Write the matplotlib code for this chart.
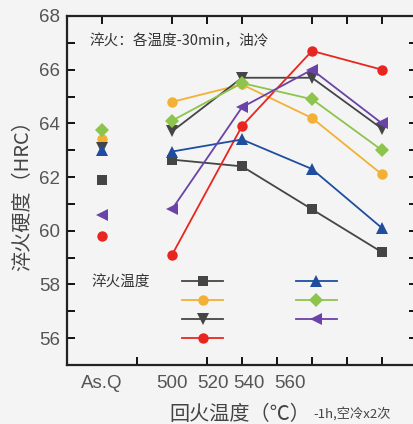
import matplotlib as mpl
import matplotlib.pyplot as plt
from matplotlib.lines import Line2D

mpl.use("Agg")

CJK = ["Noto Sans CJK SC", "DejaVu Sans"]
plt.rcParams["font.family"] = ["Liberation Sans", "Noto Sans CJK SC"]

# x positions: As.Q at 0, tempering points on a 0..8 grid
asq_pos = 0
temper_pos = [2, 4, 6, 8]

tick_labels = ["As.Q", "500", "520", "540", "560"]
tick_label_pos = [0, 2, 3.17, 4.2, 5.37]

# hardness per quench temperature: As.Q value, then tempered values
asq_hrc = [61.9, 63.4, 63.1, 59.8, 63.0, 63.75, 60.6]
temper_hrc = [
    [62.65, 62.4, 60.8, 59.2],
    [64.8, 65.45, 64.2, 62.1],
    [63.7, 65.7, 65.7, 63.8],
    [59.1, 63.9, 66.7, 66.0],
    [62.95, 63.4, 62.3, 60.1],
    [64.1, 65.5, 64.9, 63.0],
    [60.8, 64.6, 66.0, 64.0],
]
series_colors = ["#454545", "#f2b134", "#454545", "#e8261f",
                 "#1f4e9e", "#8cc44c", "#6a42a8"]
series_markers = ["s", "o", "v", "o", "^", "D", "<"]
marker_sizes = [7.5, 7.5, 8.5, 7.5, 8.5, 7, 8.5]

bg = "#f4f4f4"
fig = plt.figure(figsize=(4.14, 4.24), dpi=100, facecolor=bg)
ax = fig.add_axes([67 / 414, 59 / 424, 350 / 414, 349 / 424], facecolor=bg)

handles = []
for a, vals, c, m, ms in zip(asq_hrc, temper_hrc, series_colors,
                             series_markers, marker_sizes):
    ax.plot([asq_pos], [a], linestyle="none", marker=m, color=c,
            markersize=ms, markeredgewidth=0)
    ax.plot(temper_pos, vals, color=c, linewidth=1.3, marker=m,
            markersize=ms, markeredgewidth=0)
    handles.append(Line2D([], [], color=c, linewidth=1.3, marker=m,
                          markersize=ms, markeredgewidth=0))

ax.set_xlim(-1, 9)
ax.set_ylim(55, 68)

# x ticks: marks on the grid, labels at their own spots
ax.set_xticks(tick_label_pos)
ax.set_xticklabels(tick_labels)
ax.set_xticks(range(0, 9), minor=True)
ax.tick_params(axis="x", which="major", length=0, pad=7,
               labelsize=13.5, labelcolor="#555555")
ax.tick_params(axis="x", which="minor", direction="in", length=6,
               width=1.3, bottom=True, top=False)
top = ax.secondary_xaxis("top")
top.set_xticks([0, 2, 3, 4, 6, 7, 8])
top.set_xticklabels([])
top.tick_params(direction="in", length=6, width=1.3)
top.spines["top"].set_visible(False)

ax.set_yticks(range(56, 69, 2))
ax.set_yticks(range(55, 69), minor=True)
ax.tick_params(axis="y", which="both", direction="in", length=6, width=1.3,
               left=True, right=True)
ax.tick_params(axis="y", which="major", labelsize=13.5,
               labelcolor="#555555", pad=5)

for s in ax.spines.values():
    s.set_linewidth(1.6)
    s.set_color("#222222")

ax.text(0.065, 0.93, "淬火：各温度-30min，油冷", transform=ax.transAxes,
        fontsize=10.5, color="#333333", family=CJK, va="center")
ax.text(0.071, 0.235, "淬火温度", transform=ax.transAxes,
        fontsize=10.5, color="#333333", family=CJK, va="center")

leg = ax.legend(handles, [""] * len(handles), ncol=2, loc="upper left",
                bbox_to_anchor=(0.294, 0.293), frameon=False,
                handlelength=2.9, handletextpad=0, columnspacing=5.3,
                labelspacing=0.35, fontsize=10)

ax.set_ylabel("淬火硬度（HRC）", family=CJK, fontsize=14.5,
              color="#444444", labelpad=4)
fig.text(240 / 414, 1 - 414 / 424, "回火温度（℃）", family=CJK,
         fontsize=14.5, color="#444444", ha="center", va="center")
fig.text(313 / 414, 1 - 414 / 424, "-1h,空冷x2次", family=CJK,
         fontsize=9.5, color="#444444", ha="left", va="center")

fig.savefig("out.png", dpi=100, facecolor=bg)
plt.close(fig)
